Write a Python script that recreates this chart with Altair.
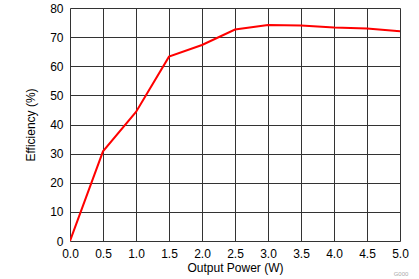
import altair as alt
import pandas as pd

power = [0.0, 0.5, 1.0, 1.5, 2.0, 2.5, 3.0, 3.5, 4.0, 4.5, 5.0]
efficiency = [0.0, 30.8, 44.3, 63.3, 67.3, 72.6, 74.2, 74.0, 73.3, 73.0, 72.0]

df = pd.DataFrame({"power": power, "eff": efficiency})
FONT = "Liberation Sans"

line = alt.Chart(df).mark_line(color="#ff0000", strokeWidth=2, clip=True).encode(
    x=alt.X("power:Q",
            scale=alt.Scale(domain=[0, 5], nice=False),
            axis=alt.Axis(title="Output Power (W)", values=[0, 0.5, 1, 1.5, 2, 2.5, 3, 3.5, 4, 4.5, 5],
                          format=".1f", grid=True, gridColor="#333333", gridWidth=1, gridOpacity=1,
                          ticks=False, domain=False, labelPadding=7, labelFontSize=12,
                          labelFlush=False, labelOverlap=False,
                          labelFont=FONT, labelColor="#000", titleFont=FONT, titleFontSize=12,
                          titleFontWeight="normal", titleColor="#000", titlePadding=3)),
    y=alt.Y("eff:Q",
            scale=alt.Scale(domain=[0, 80], nice=False),
            axis=alt.Axis(title="Efficiency (%)", values=[0, 10, 20, 30, 40, 50, 60, 70, 80],
                          grid=True, gridColor="#333333", gridWidth=1, gridOpacity=1,
                          ticks=False, domain=False, labelPadding=7, labelFontSize=12,
                          labelFlush=False, labelOverlap=False,
                          labelFont=FONT, labelColor="#000", titleFont=FONT, titleFontSize=12,
                          titleFontWeight="normal", titleColor="#000", titlePadding=12)),
)

chart = line.properties(
    width=330, height=233,
    autosize=alt.AutoSizeParams(type="none"),
    padding={"left": 70, "top": 8, "right": 19, "bottom": 38},
    title=alt.TitleParams("G000", orient="bottom", anchor="end", fontSize=6, color="#aaaaaa",
                          font=FONT, fontWeight="normal", offset=-2),
).configure_view(stroke="#000000", strokeWidth=1.5).configure(background="white")

chart.save("out.html", embed_options={"renderer": "svg", "actions": False})
